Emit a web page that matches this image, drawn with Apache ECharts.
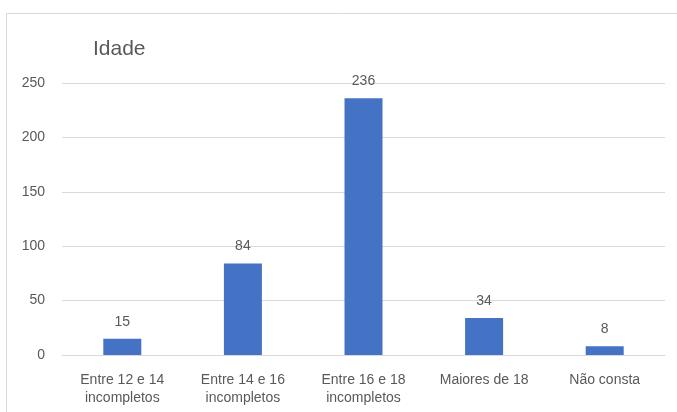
<!DOCTYPE html>
<html>
<head>
<meta charset="utf-8">
<script src="https://cdn.jsdelivr.net/npm/echarts@6/dist/echarts.min.js"></script>
<style>
  html, body { margin: 0; padding: 0; background: #fff; }
  #chart { width: 677px; height: 412px; }
</style>
</head>
<body>
<div id="chart"></div>
<script>
// Age groups and counts
const categories = [
  'Entre 12 e 14\nincompletos',
  'Entre 14 e 16\nincompletos',
  'Entre 16 e 18\nincompletos',
  'Maiores de 18',
  'Não consta'
];
const counts = [15, 84, 236, 34, 8];
const yTicks = { min: 0, max: 250, interval: 50 };

const textColor = '#595959';
const font = '"Liberation Sans", Arial, sans-serif';

const chart = echarts.init(document.getElementById('chart'));
chart.setOption({
  animation: false,
  textStyle: { fontFamily: font },
  graphic: [{
    type: 'rect',
    silent: true,
    shape: { x: 6.5, y: 13.5, width: 720, height: 430 },
    style: { fill: 'none', stroke: '#d9d9d9', lineWidth: 1 }
  }],
  title: {
    text: 'Idade',
    left: 88,
    top: 34,
    textStyle: { color: textColor, fontSize: 21, fontWeight: 'normal', fontFamily: font }
  },
  grid: { left: 62, right: 12, top: 83, bottom: 57 },
  xAxis: {
    type: 'category',
    data: categories,
    axisLine: { lineStyle: { color: '#d9d9d9' } },
    axisTick: { show: false },
    axisLabel: { color: textColor, fontSize: 14, lineHeight: 18, margin: 16, interval: 0 }
  },
  yAxis: {
    type: 'value',
    min: yTicks.min,
    max: yTicks.max,
    interval: yTicks.interval,
    axisLine: { show: false },
    axisTick: { show: false },
    splitLine: { lineStyle: { color: '#d9d9d9' } },
    axisLabel: { color: textColor, fontSize: 14, margin: 17 }
  },
  series: [{
    type: 'bar',
    data: counts,
    barWidth: '31.5%',
    itemStyle: { color: '#4472C4' },
    label: {
      show: true,
      position: 'top',
      distance: 10,
      color: textColor,
      fontSize: 14
    }
  }]
});
</script>
</body>
</html>
